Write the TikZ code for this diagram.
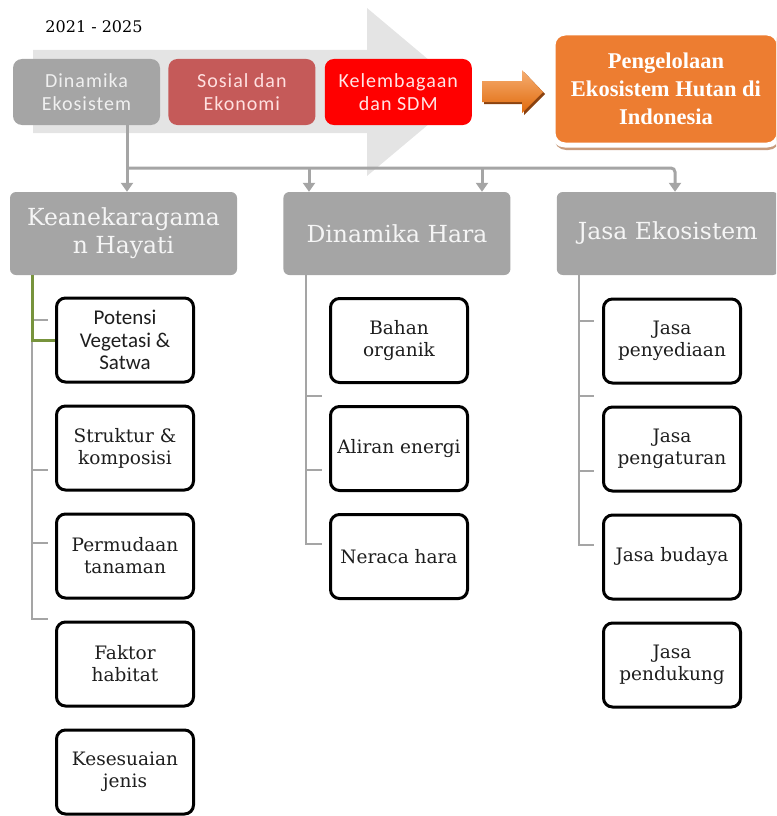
\documentclass[tikz,border=0pt]{standalone}
\usepackage{fontspec}
\setmainfont{DejaVu Serif}
\newfontfamily\calibri{Carlito}
\newfontfamily\calibrisp[LetterSpace=5]{Carlito}
\newfontfamily\cambriabf{Liberation Serif}
\usetikzlibrary{positioning,arrows.meta,shadows}

\definecolor{boxgray}{HTML}{A5A5A5}
\definecolor{bandgray}{HTML}{E4E4E4}
\definecolor{sosialred}{HTML}{C55A59}
\definecolor{textgray}{HTML}{1E1E1E}
\definecolor{orangefill}{HTML}{ED7D31}
\definecolor{shadowbrown}{HTML}{C89B7C}
\definecolor{arrowlight}{HTML}{F6AE72}
\definecolor{arrowdark}{HTML}{E06A0C}
\definecolor{arrowshade}{HTML}{8A4210}
\definecolor{leafgreen}{HTML}{77933C}

\tikzset{
  tbox/.style = {rounded corners=9pt, minimum width=147pt, minimum height=66pt,
    inner sep=2pt, align=center, font=\calibrisp\fontsize{20}{23}\selectfont},
  head/.style = {fill=boxgray, rounded corners=6pt, minimum width=227pt,
    minimum height=83pt, align=center, text=white!92!gray,
    font=\fontsize{23.5}{28}\selectfont},
  item/.style = {draw=black, line width=3pt, rounded corners=9pt, fill=white,
    minimum width=137pt, minimum height=84pt, inner sep=2pt, align=center,
    text=textgray, font=\fontsize{18.5}{22}\selectfont},
  conn/.style = {draw=boxgray, line width=3pt},
  branch/.style = {draw=boxgray, line width=1.5pt}
}

\begin{document}
\begin{tikzpicture}[x=1pt, y=-1pt, >={Triangle[width=12pt,length=9pt]}]
\useasboundingbox (0,0) rectangle (776,816);
\clip (0,0) rectangle (776,816);

% band arrow behind the top row
\fill[bandgray] (33,50) -- (367,50) -- (367,8) -- (467,92) -- (367,176)
  -- (367,133) -- (33,133) -- cycle;

\node[font=\fontsize{16}{18}\selectfont] (year) at (94,27) {2021 - 2025};

% top row
\node[tbox, fill=boxgray, text=white!88!gray] (dinamika) at (86.5,92) {Dinamika\\Ekosistem};
\node[tbox, fill=sosialred, text=red!12!white] (sosial) [right=8pt of dinamika] {Sosial dan\\Ekonomi};
\node[tbox, fill=red, text=red!10!white] (lembaga) [right=9pt of sosial] {Kelembagaan\\dan SDM};

\node[fill=orangefill, draw=white, line width=5pt, rounded corners=12pt,
  minimum width=226pt, minimum height=112pt, align=center, text=white,
  drop shadow={shadow xshift=1pt, shadow yshift=-5pt, fill=shadowbrown, opacity=1},
  font=\cambriabf\bfseries\fontsize{22.5}{28}\selectfont]
  (kelola) at (666,89) {Pengelolaan\\Ekosistem Hutan di\\Indonesia};

% orange block arrow
\fill[arrowshade] (484,83) -- (524,83) -- (524,72) -- (545,94) -- (524,115)
  -- (524,104) -- (484,104) -- cycle;
\shade[top color=arrowlight, bottom color=arrowdark] (482,81) -- (522,81)
  -- (522,70) -- (543,92) -- (522,113) -- (522,102) -- (482,102) -- cycle;

% second row
\node[head] (kea) at (123.5,233.5) {Keanekaragama\\n Hayati};
\node[head] (hara) [right=46pt of kea] {Dinamika Hara};
\node[head, minimum width=222pt] (jasa) [right=46pt of hara] {Jasa Ekosistem};

% bus
\coordinate (b1) at (127,168);
\coordinate (b2) at (309,168);
\coordinate (b3) at (482,168);
\coordinate (b4) at (675,168);
\draw[conn] (dinamika.south -| b1) -- (b1);
\draw[conn,->,rounded corners=4pt] (b1) -- (b4) -- (b4 |- jasa.north);
\draw[conn,->] (b1) -- (b1 |- kea.north);
\draw[conn,->] (b2) -- (b2 |- hara.north);
\draw[conn,->] (b3) -- (b3 |- hara.north);

% branches
\coordinate (ktop) at (32,275);
\coordinate (kend) at (48,619);
\draw[branch] (ktop) |- (kend) (32,320) -- (48,320) (32,470) -- (48,470)
  (32,543) -- (48,543);
\coordinate (htop) at (306,275);
\coordinate (hend) at (322,544);
\draw[branch] (htop) |- (hend) (306,396) -- (322,396) (306,470) -- (322,470);
\coordinate (jtop) at (579,275);
\coordinate (jend) at (594,545);
\draw[branch] (jtop) |- (jend) (579,321) -- (594,321) (579,396) -- (594,396)
  (579,471) -- (594,471);

% left column
\node[item, font=\calibri\fontsize{21}{22.5}\selectfont] (potensi) at (125,340) {Potensi\\Vegetasi \&\\Satwa};
\node[item] (struktur) [below=21pt of potensi] {Struktur \&\\komposisi};
\node[item] (permudaan) [below=21pt of struktur] {Permudaan\\tanaman};
\node[item] (faktor) [below=21pt of permudaan] {Faktor\\habitat};
\node[item] (sesuai) [below=21pt of faktor] {Kesesuaian\\jenis};
\draw[leafgreen, line width=3pt] (ktop) |- (potensi.west);

% middle column
\node[item] (bahan) at (399,340.5) {Bahan\\organik};
\node[item] (aliran) [below=21pt of bahan] {Aliran energi};
\node[item] (neraca) [below=21pt of aliran] {Neraca hara};

% right column
\node[item] (sedia) at (672,341) {Jasa\\penyediaan};
\node[item] (atur) [below=21pt of sedia] {Jasa\\pengaturan};
\node[item] (budaya) [below=21pt of atur] {Jasa budaya};
\node[item] (dukung) [below=21pt of budaya] {Jasa\\pendukung};
\end{tikzpicture}
\end{document}
